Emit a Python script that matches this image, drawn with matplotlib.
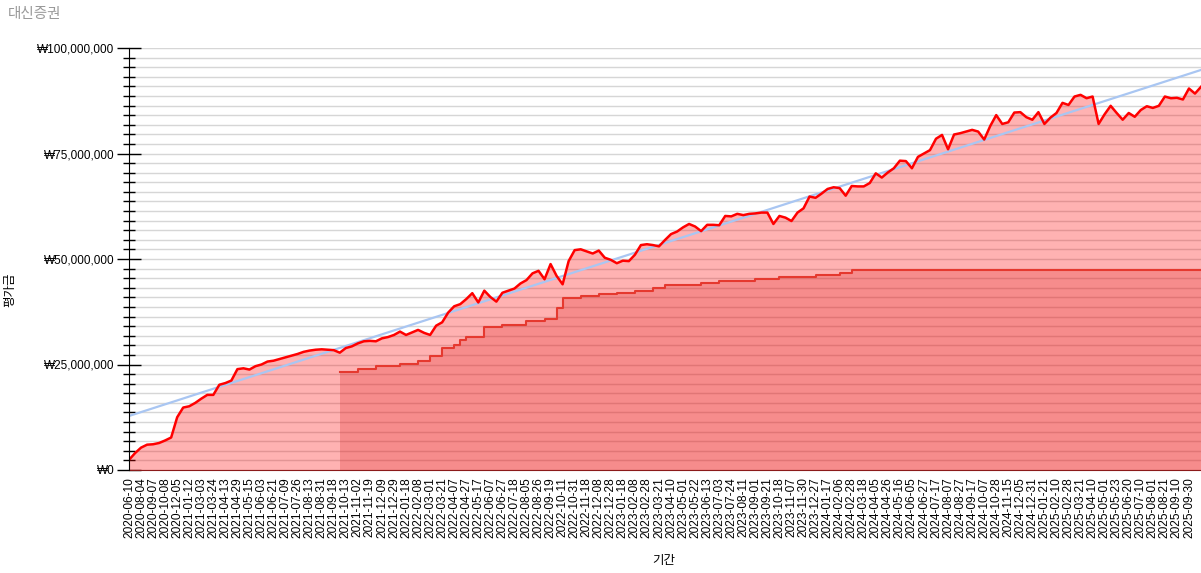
import numpy as np
import matplotlib
matplotlib.use("Agg")
import matplotlib.pyplot as plt
from matplotlib.ticker import FuncFormatter, FixedLocator

plt.rcParams['font.family'] = ['Liberation Sans', 'Noto Sans CJK KR']

title = "대신증권"
x_title = "기간"
y_title = "평가금"

date_labels = [
    "2020-06-10", "2020-08-04", "2020-09-07", "2020-10-08", "2020-12-05",
    "2021-01-12", "2021-03-03", "2021-03-24", "2021-04-13", "2021-04-29",
    "2021-05-15", "2021-06-03", "2021-06-21", "2021-07-09", "2021-07-26",
    "2021-08-13", "2021-08-31", "2021-09-18", "2021-10-13", "2021-11-02",
    "2021-11-19", "2021-12-09", "2021-12-29", "2022-01-18", "2022-02-08",
    "2022-03-01", "2022-03-21", "2022-04-07", "2022-04-27", "2022-05-17",
    "2022-06-07", "2022-06-27", "2022-07-18", "2022-08-05", "2022-08-26",
    "2022-09-19", "2022-10-11", "2022-10-31", "2022-11-18", "2022-12-08",
    "2022-12-28", "2023-01-18", "2023-02-08", "2023-02-28", "2023-03-21",
    "2023-04-10", "2023-05-01", "2023-05-22", "2023-06-13", "2023-07-03",
    "2023-07-24", "2023-08-11", "2023-09-01", "2023-09-21", "2023-10-18",
    "2023-11-07", "2023-11-30", "2023-12-27", "2024-01-17", "2024-02-06",
    "2024-02-28", "2024-03-18", "2024-04-05", "2024-04-26", "2024-05-16",
    "2024-06-05", "2024-06-27", "2024-07-17", "2024-08-07", "2024-08-27",
    "2024-09-17", "2024-10-07", "2024-10-28", "2024-11-15", "2024-12-05",
    "2024-12-31", "2025-01-21", "2025-02-10", "2025-02-28", "2025-03-21",
    "2025-04-10", "2025-05-01", "2025-05-23", "2025-06-20", "2025-07-10",
    "2025-08-01", "2025-08-21", "2025-09-10", "2025-09-30",
]

# valuation (million won), two samples per date label
valuation = [
    2.4, 4.0, 5.3, 6.0, 6.1, 6.4, 7.0, 7.7, 12.5, 14.8,
    15.1, 15.9, 16.9, 17.8, 17.8, 20.2, 20.6, 21.2, 23.9, 24.1,
    23.8, 24.6, 25.0, 25.7, 25.9, 26.3, 26.7, 27.1, 27.5, 28.0,
    28.3, 28.5, 28.6, 28.5, 28.4, 27.8, 28.9, 29.3, 30.0, 30.5,
    30.6, 30.5, 31.2, 31.5, 32.0, 32.8, 32.0, 32.6, 33.2, 32.5,
    32.0, 34.2, 35.0, 37.3, 38.8, 39.3, 40.5, 41.9, 39.7, 42.5,
    41.0, 39.9, 42.0, 42.5, 43.0, 44.2, 45.0, 46.6, 47.2, 45.2,
    48.8, 46.0, 44.0, 49.5, 52.1, 52.3, 51.8, 51.3, 52.0, 50.3,
    49.8, 49.0, 49.6, 49.5, 51.0, 53.3, 53.5, 53.3, 53.0, 54.5,
    55.9, 56.5, 57.5, 58.3, 57.7, 56.6, 58.1, 58.1, 58.0, 60.2,
    60.1, 60.7, 60.4, 60.7, 60.8, 61.0, 61.0, 58.3, 60.2, 59.8,
    59.0, 61.0, 62.0, 64.8, 64.5, 65.5, 66.6, 67.0, 66.8, 65.0,
    67.3, 67.2, 67.2, 68.0, 70.3, 69.3, 70.5, 71.5, 73.3, 73.2,
    71.5, 74.2, 75.0, 75.8, 78.5, 79.4, 76.0, 79.5, 79.8, 80.2,
    80.6, 80.2, 78.3, 81.5, 84.1, 82.0, 82.4, 84.7, 84.8, 83.6,
    83.0, 84.8, 82.0, 83.5, 84.6, 87.0, 86.5, 88.5, 88.9, 88.1,
    88.5, 82.0, 84.3, 86.3, 84.6, 83.0, 84.6, 83.7, 85.3, 86.2,
    85.8, 86.3, 88.5, 88.1, 88.2, 87.8, 90.4, 89.2, 90.8,
]

# invested principal (million won): sample index where each step starts
cost_x = [35, 38, 41, 45, 48, 50, 52, 54, 55, 56,
          59, 62, 66, 69, 71, 72, 75, 78, 81, 84,
          87, 89, 95, 98, 104, 108, 114, 118, 120, 178]
cost_y = [23.2, 23.9, 24.6, 25.1, 25.8, 27.0, 28.8, 29.6, 30.8, 31.6,
          33.9, 34.4, 35.3, 35.9, 38.3, 40.8, 41.2, 41.6, 42.0, 42.5,
          43.1, 43.8, 44.3, 44.7, 45.2, 45.7, 46.2, 46.8, 47.5, 47.5]

# trend line end values (million won)
trend_y = [12.8, 94.8]

val = np.array(valuation) * 1e6
xs = np.arange(len(val))
cx = np.array(cost_x)
cy = np.array(cost_y) * 1e6
tx = [xs[0], xs[-1]]
ty = np.array(trend_y) * 1e6

fig = plt.figure(figsize=(12.01, 5.73), dpi=100)
W, H = 1201, 573
ax = fig.add_axes([129 / W, 1 - 470 / H, (1201 - 129) / W, (470 - 48) / H])

ax.fill_between(xs, 0, val, color=(1.0, 0.0, 0.0), alpha=0.3, linewidth=0, zorder=2)
ax.fill_between(cx, 0, cy, step='post', color=(0.86, 0.08, 0.08), alpha=0.24,
                linewidth=0, zorder=3)
ax.step(cx, cy, where='post', color='#e5392f', lw=1.5, zorder=4)
ax.plot(tx, ty, color='#a9c6f2', lw=1.6, zorder=5)
ax.plot(xs, val, color='#ff0000', lw=1.8, zorder=6)

ax.set_xlim(0, 178)
ax.set_ylim(0, 100e6)

ax.set_yticks(np.arange(0, 100e6 + 1, 25e6))
ax.yaxis.set_minor_locator(FixedLocator(np.linspace(0, 100e6, 45)))
ax.yaxis.set_major_formatter(FuncFormatter(lambda v, p: "\u20a9{:,.0f}".format(v)))
ax.tick_params(axis='y', which='major', direction='inout', length=17, width=1,
               labelsize=8.5, pad=2)
ax.tick_params(axis='y', which='minor', direction='inout', length=9, width=1)
ax.grid(True, axis='y', which='both', color='#d6d6d6', lw=1, zorder=0)
ax.set_axisbelow(True)

ax.set_xticks(np.arange(0, 2 * len(date_labels), 2))
ax.set_xticklabels(date_labels, rotation=90, fontsize=8.6)
ax.tick_params(axis='x', length=0, pad=5)

for s in ['top', 'right']:
    ax.spines[s].set_visible(False)
ax.spines['bottom'].set_color('#8b1a1a')
ax.spines['left'].set_zorder(7)

fig.text(8 / W, 1 - 14 / H, title, color='#999999', fontsize=10.5, va='center', ha='left')
fig.text(664 / W, 1 - 561 / H, x_title, fontsize=9, ha='center', va='center')
fig.text(10 / W, 1 - 290 / H, y_title, fontsize=9, rotation=90, ha='center', va='center')

fig.savefig("out.png", dpi=100)
